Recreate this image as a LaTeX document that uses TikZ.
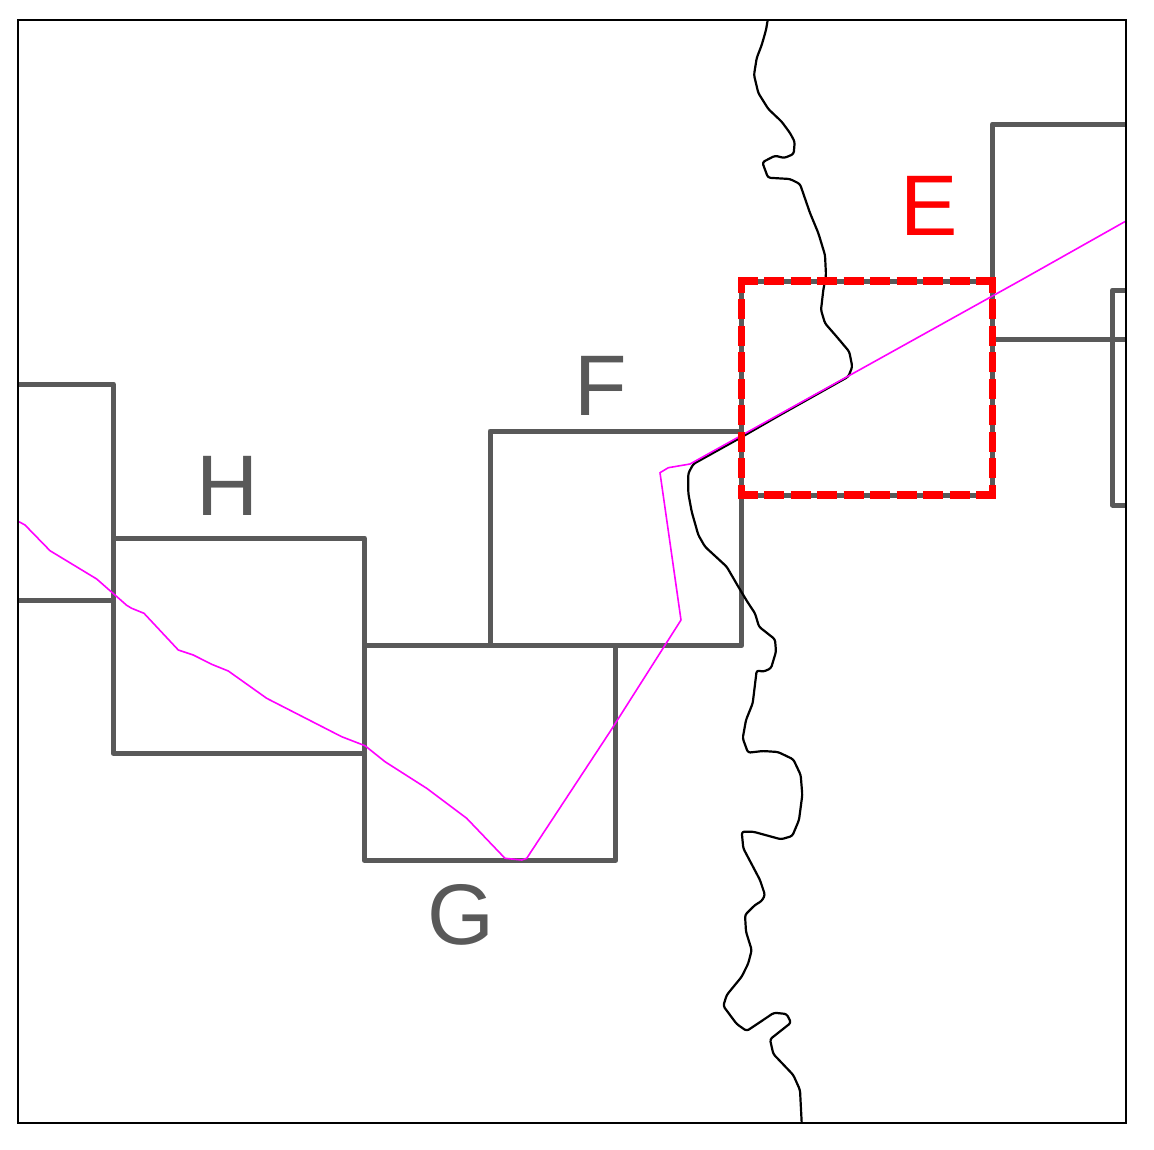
\documentclass[tikz,border=0pt]{standalone}
\usepackage{fontspec}
\setmainfont{Liberation Sans}
\definecolor{boxgray}{HTML}{595959}
\definecolor{trackmag}{HTML}{FF00FF}
\tikzset{
  gridbox/.style={draw=boxgray,line width=5pt,line join=round,line cap=round},
  redside/.style={draw=red,line width=7.6pt},
  river/.style={draw=black,line width=2.2pt,line join=round,rounded corners=2.5pt},
  track/.style={draw=trackmag,line width=1.6pt,line join=round},
  panel/.style={draw=black,line width=2pt},
  letter/.style={font=\fontsize{86}{86}\selectfont,anchor=base,inner sep=0pt,text=boxgray}
}
\begin{document}
\begin{tikzpicture}[x=1pt,y=-1pt]
\useasboundingbox (0,0) rectangle (1154,1149);
\begin{scope}
\clip (18,20) rectangle (1126,1123);
% grey boxes
\draw[gridbox] (10,384) -- (113.3,384) -- (113.3,600) -- (10,600);
\draw[gridbox] (113.3,538) rectangle (364.3,753.5);
\draw[gridbox] (364.3,645.7) rectangle (615.6,860.5);
\draw[gridbox] (490,431) rectangle (741.6,645.7);
\draw[gridbox] (741.5,281) rectangle (992.5,495);
\draw[gridbox] (1135,124) -- (992.5,124) -- (992.5,339.5) -- (1135,339.5);
\draw[gridbox] (1135,290) -- (1112.3,290) -- (1112.3,505) -- (1135,505);
% river
\draw[river] (767.7,20) -- (766,30) -- (761.7,45) -- (756.7,58) -- (754,75) -- (758.3,93) -- (768.3,109) -- (781.7,121.7) -- (790,133) -- (794.7,141.7) -- (793.7,154) -- (784.3,158) -- (775,155.7) -- (762.3,162.3) -- (768,177.7) -- (790,179) -- (800,184) -- (810,213) -- (818.3,233) -- (825,255) -- (826,275) -- (823.3,290) -- (821,310) -- (825,323.3) -- (836.7,336.7) -- (849.3,351.7) -- (852.3,366.7) -- (848.3,376.7) -- (780,415) -- (740,438) -- (693.3,464) -- (688.3,473.3) -- (688.3,493.3) -- (691.7,511.7) -- (698.3,535) -- (705,546.7) -- (726.7,566.7) -- (738.3,586.7) -- (747.3,601.7) -- (755,613.3) -- (759,626.7) -- (775,639.3) -- (776,651.7) -- (771,668.3) -- (763.3,671.7) -- (756.7,670.3) -- (752.7,703.3) -- (746,720) -- (742.7,738.3) -- (748,752.7) -- (763,751) -- (778,752) -- (793.3,759.3) -- (800.7,775) -- (802.3,795) -- (799,820) -- (792.3,836) -- (781,839.3) -- (753.3,831.7) -- (741.7,831.7) -- (743.3,848.3) -- (760,880) -- (765,895) -- (761.7,901) -- (755,905) -- (745,915) -- (746,931.7) -- (751.7,950) -- (748.3,963.3) -- (741.7,976.7) -- (726.7,995) -- (723.3,1006) -- (736.7,1024) -- (746.7,1031) -- (774,1012.7) -- (786.7,1014) -- (791,1022.7) -- (770,1039.3) -- (773.3,1054) -- (793.3,1075) -- (800,1090) -- (801.7,1123);
% track
\draw[track] (19,521.7) -- (25,525) -- (50,550.7) -- (96.7,579) -- (126.7,605.3) -- (131.7,608.3) -- (144,613.3) -- (178.3,650) -- (193.3,655) -- (211.7,664.3) -- (228.3,671) -- (266.7,698.3) -- (341.7,736.7) -- (365,745.7) -- (385,761.7) -- (426.7,788.3) -- (466.7,818.3) -- (505,858.3) -- (521.7,860) -- (526.7,858.3) -- (610,731.7) -- (681,620) -- (660,472.7) -- (668.3,467.7) -- (690,464) -- (1020,280.7) -- (1126,221);
% red dashed box
\draw[redside,dash pattern=on 20pt off 6.5pt,dash phase=0.75pt] (738.25,281) -- (995.75,281);
\draw[redside,dash pattern=on 20pt off 6.5pt,dash phase=0.75pt] (738.25,495) -- (995.75,495);
\draw[redside,dash pattern=on 20pt off 6.5pt,dash phase=6.55pt] (741.5,498.25) -- (741.5,277.75);
\draw[redside,dash pattern=on 20pt off 6.5pt,dash phase=6.55pt] (992.5,498.25) -- (992.5,277.75);
\end{scope}
\draw[panel] (18,20) rectangle (1126,1123);
\node[letter,text=red] (labelE) at (929,235) {E};
\node[letter] (labelF) at (601,415) {F};
\node[letter] (labelH) at (228,515) {H};
\node[letter] (labelG) at (461,944) {G};
\end{tikzpicture}
\end{document}
